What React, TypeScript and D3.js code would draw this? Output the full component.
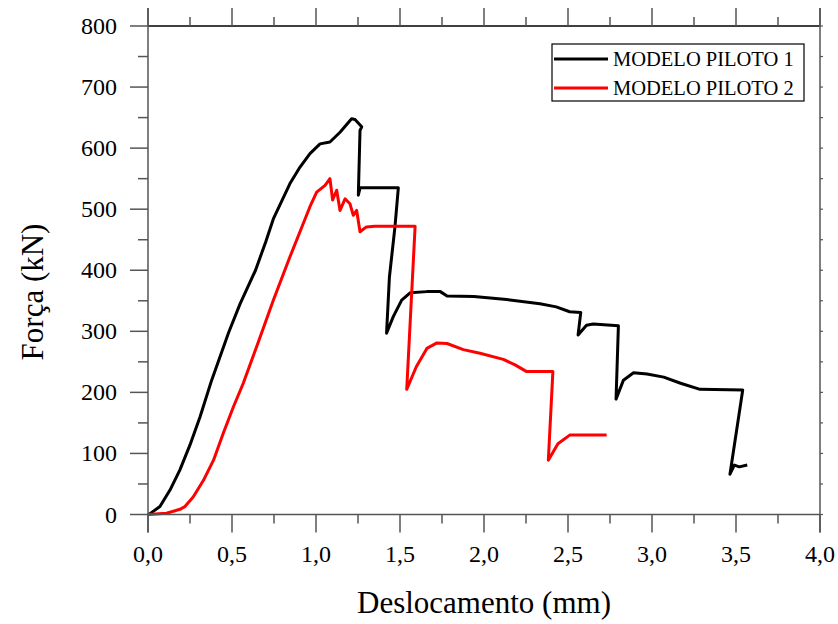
import React from "react";
import * as d3 from "d3";

// MODELO PILOTO 1 (deslocamento mm, força kN)
const piloto1: [number, number][] = [
  [0.0, 0], [0.01, 1], [0.071, 13], [0.131, 40], [0.19, 73], [0.25, 114],
  [0.31, 160], [0.379, 220], [0.48, 298], [0.548, 345], [0.64, 400],
  [0.70, 446], [0.746, 484], [0.845, 542], [0.905, 569], [0.964, 591],
  [1.024, 607], [1.083, 610], [1.143, 626], [1.212, 648], [1.232, 647],
  [1.272, 635], [1.262, 629], [1.252, 523], [1.262, 535], [1.49, 535],
  [1.47, 471], [1.437, 389], [1.42, 297], [1.46, 324], [1.51, 351],
  [1.56, 363], [1.66, 365], [1.74, 365], [1.78, 358], [1.94, 357],
  [2.135, 352], [2.333, 345], [2.43, 340], [2.51, 332], [2.576, 331],
  [2.56, 294], [2.61, 310], [2.65, 312], [2.8, 309], [2.786, 189],
  [2.83, 220], [2.89, 232], [2.97, 230], [3.07, 225], [3.17, 215],
  [3.286, 205], [3.54, 204], [3.464, 66], [3.49, 81], [3.52, 78], [3.567, 81],
];

// MODELO PILOTO 2
const piloto2: [number, number][] = [
  [0.0, 0], [0.11, 2], [0.19, 8.5], [0.22, 13], [0.27, 29], [0.33, 56],
  [0.39, 89], [0.448, 133], [0.508, 176], [0.567, 215], [0.66, 285],
  [0.746, 351], [0.845, 422], [0.964, 504], [1.004, 528], [1.054, 539],
  [1.083, 550], [1.099, 515], [1.123, 531], [1.143, 498], [1.173, 517],
  [1.202, 509], [1.222, 490], [1.242, 498], [1.262, 463], [1.3, 471],
  [1.35, 472], [1.59, 472], [1.54, 205], [1.597, 242], [1.66, 272],
  [1.72, 281], [1.78, 280], [1.877, 270], [1.976, 264], [2.115, 254],
  [2.185, 245], [2.254, 234], [2.41, 234], [2.383, 89], [2.44, 116],
  [2.51, 130], [2.73, 130],
];

const xMajor = [0, 0.5, 1, 1.5, 2, 2.5, 3, 3.5, 4];
const xMinor = [0.25, 0.75, 1.25, 1.75, 2.25, 2.75, 3.25, 3.75];
const yMajor = [0, 100, 200, 300, 400, 500, 600, 700, 800];
const yMinor = [50, 150, 250, 350, 450, 550, 650, 750];

const seriesNames = ["MODELO PILOTO 1", "MODELO PILOTO 2"];
const seriesColors = ["#000000", "#ff0000"];

const x = d3.scaleLinear().domain([0, 4]).range([148, 820]);
const y = d3.scaleLinear().domain([0, 800]).range([514.5, 26]);

const line = d3
  .line<[number, number]>()
  .x((d) => x(d[0]))
  .y((d) => y(d[1]));

const font = "'Liberation Serif', 'Times New Roman', serif";
const axisColor = "#555";

export default function App() {
  const x0 = x(0), x1 = x(4), y0 = y(0), y1 = y(800);
  return (
    <svg
      width={838}
      height={624}
      style={{ position: "absolute", left: 0, top: 0, background: "#fff" }}
      fontFamily={font}
    >
      <rect width={838} height={624} fill="#fff" />

      {/* data */}
      {[piloto1, piloto2].map((s, i) => (
        <path
          key={i}
          d={line(s) ?? ""}
          fill="none"
          stroke={seriesColors[i]}
          strokeWidth={3}
          strokeLinejoin="round"
        />
      ))}

      {/* frame */}
      <line x1={x0} x2={x1} y1={y1} y2={y1} stroke="#000" strokeWidth={1.3} />
      <line x1={x0} x2={x1} y1={y0} y2={y0} stroke={axisColor} strokeWidth={1.5} />
      <line x1={x0} x2={x0} y1={y1 - 18} y2={y0 + 18} stroke={axisColor} strokeWidth={1.5} />
      <line x1={x1} x2={x1} y1={y1 - 18} y2={y0 + 18} stroke={axisColor} strokeWidth={1.5} />

      {/* x ticks bottom and top */}
      {xMajor.map((v) => (
        <g key={"xm" + v}>
          <line x1={x(v)} x2={x(v)} y1={y0} y2={y0 + 18} stroke={axisColor} strokeWidth={1.5} />
          <line x1={x(v)} x2={x(v)} y1={y1} y2={y1 - 18} stroke={axisColor} strokeWidth={1.5} />
          <text x={x(v)} y={562} textAnchor="middle" fontSize={24} fill="#000">
            {d3.format(".1f")(v).replace(".", ",")}
          </text>
        </g>
      ))}
      {xMinor.map((v) => (
        <g key={"xn" + v}>
          <line x1={x(v)} x2={x(v)} y1={y0} y2={y0 + 9} stroke={axisColor} strokeWidth={1.5} />
          <line x1={x(v)} x2={x(v)} y1={y1} y2={y1 - 9} stroke={axisColor} strokeWidth={1.5} />
        </g>
      ))}

      {/* y ticks left and right */}
      {yMajor.map((v) => (
        <g key={"ym" + v}>
          <line x1={x0 - 18} x2={x0} y1={y(v)} y2={y(v)} stroke={axisColor} strokeWidth={1.5} />
          <line x1={x1} x2={x1 + 3} y1={y(v)} y2={y(v)} stroke={axisColor} strokeWidth={1.2} />
          <text x={117} y={y(v) + 8} textAnchor="end" fontSize={24} fill="#000">
            {v}
          </text>
        </g>
      ))}
      {yMinor.map((v) => (
        <g key={"yn" + v}>
          <line x1={x0 - 10} x2={x0} y1={y(v)} y2={y(v)} stroke={axisColor} strokeWidth={1.5} />
          <line x1={x1} x2={x1 + 3} y1={y(v)} y2={y(v)} stroke={axisColor} strokeWidth={1.2} />
        </g>
      ))}

      {/* axis titles */}
      <text x={484} y={613} textAnchor="middle" fontSize={31} fill="#000">
        Deslocamento (mm)
      </text>
      <text
        transform={`translate(43, 292) rotate(-90)`}
        textAnchor="middle"
        fontSize={31}
        fill="#000"
      >
        Força (kN)
      </text>

      {/* legend */}
      <rect x={552} y={44} width={252} height={57} fill="#fff" stroke="#000" strokeWidth={1.2} />
      {seriesNames.map((n, i) => (
        <g key={n}>
          <line
            x1={554}
            x2={608}
            y1={59 + i * 29}
            y2={59 + i * 29}
            stroke={seriesColors[i]}
            strokeWidth={3}
          />
          <text x={613} y={59 + i * 29 + 7} fontSize={20.5} fill="#000">
            {n}
          </text>
        </g>
      ))}
    </svg>
  );
}
